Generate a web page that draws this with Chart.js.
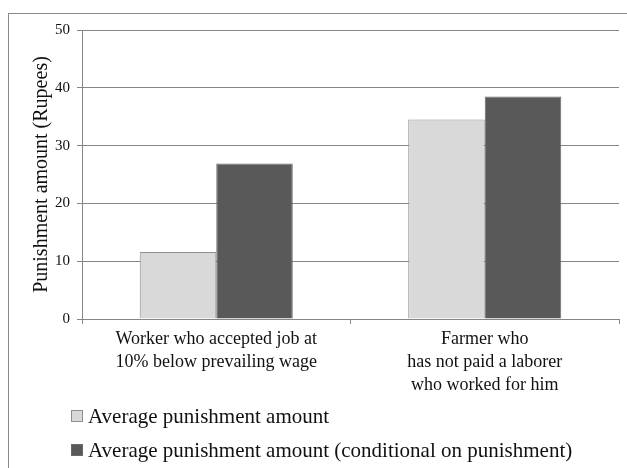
<!DOCTYPE html>
<html>
<head>
<meta charset="utf-8">
<script src="https://cdn.jsdelivr.net/npm/chart.js@4/dist/chart.umd.min.js"></script>
<style>
  html, body { margin: 0; padding: 0; background: #fff; }
  #wrap { width: 627px; height: 468px; }
</style>
</head>
<body>
<div id="wrap"><canvas id="c" width="627" height="468"></canvas></div>
<script>
const categories = [
  ["Worker who accepted job at", "10% below prevailing wage"],
  ["Farmer who", "has not paid a laborer", "who worked for him"]
];
const seriesNames = [
  "Average punishment amount",
  "Average punishment amount (conditional on punishment)"
];
const avgPunishment = [11.6, 34.5];
const avgConditional = [26.9, 38.5];
const yTicks = [0, 10, 20, 30, 40, 50];
const yTitle = "Punishment amount (Rupees)";

const SERIF = "'Liberation Serif', 'Times New Roman', serif";
const fills = ["#d9d9d9", "#595959"];
const borders = ["#8f8f8f", "#6a6a6a"];

const bgPlugin = {
  id: 'bg',
  beforeDraw(chart) {
    const ctx = chart.ctx;
    ctx.save();
    ctx.fillStyle = '#fff';
    ctx.fillRect(0, 0, chart.width, chart.height);
    ctx.strokeStyle = '#8a8a8a';
    ctx.lineWidth = 1;
    ctx.strokeRect(8.5, 13.5, 700, 600);
    ctx.restore();
  }
};

const legendPlugin = {
  id: 'customLegend',
  afterDraw(chart) {
    const ctx = chart.ctx;
    ctx.save();
    chart.data.datasets.forEach((ds, i) => {
      const cy = 416 + i * 34;
      ctx.fillStyle = ds.backgroundColor;
      ctx.fillRect(71.5, cy - 5.5, 11, 11);
      ctx.strokeStyle = ds.borderColor;
      ctx.lineWidth = 1;
      ctx.strokeRect(71.5, cy - 5.5, 11, 11);
      ctx.fillStyle = '#111';
      ctx.font = "21px " + SERIF;
      ctx.textBaseline = 'middle';
      ctx.textAlign = 'left';
      ctx.fillText(ds.label, 88, cy + 1);
    });
    ctx.restore();
  }
};

new Chart(document.getElementById('c'), {
  type: 'bar',
  data: {
    labels: categories,
    datasets: [
      { label: seriesNames[0], data: avgPunishment, backgroundColor: fills[0], borderColor: borders[0], borderWidth: 1 },
      { label: seriesNames[1], data: avgConditional, backgroundColor: fills[1], borderColor: borders[1], borderWidth: 1 }
    ]
  },
  options: {
    responsive: false,
    animation: false,
    devicePixelRatio: 1,
    layout: { padding: { left: 0, right: 8, top: 30, bottom: 0 } },
    datasets: { bar: { barPercentage: 1.0, categoryPercentage: 0.57 } },
    plugins: {
      legend: { display: false },
      tooltip: { enabled: false }
    },
    scales: {
      x: {
        grid: { offset: true, drawOnChartArea: false, tickLength: 5, color: '#868686' },
        border: { display: true, color: '#868686' },
        ticks: { color: '#111', font: { family: SERIF, size: 18, lineHeight: 1.28 }, padding: 4, maxRotation: 0, autoSkip: false },
        afterFit(scale) { scale.height = 149; }
      },
      y: {
        min: 0, max: 50,
        afterBuildTicks(scale) { scale.ticks = yTicks.map(v => ({ value: v })); },
        grid: { color: '#868686', tickLength: 5 },
        border: { display: true, color: '#868686' },
        ticks: { color: '#111', font: { family: SERIF, size: 15 }, padding: 7 },
        title: { display: true, text: yTitle, color: '#111', font: { family: SERIF, size: 20 }, padding: { top: 30, bottom: 0 } },
        afterFit(scale) { scale.width = 82; }
      }
    }
  },
  plugins: [bgPlugin, legendPlugin]
});
</script>
</body>
</html>
